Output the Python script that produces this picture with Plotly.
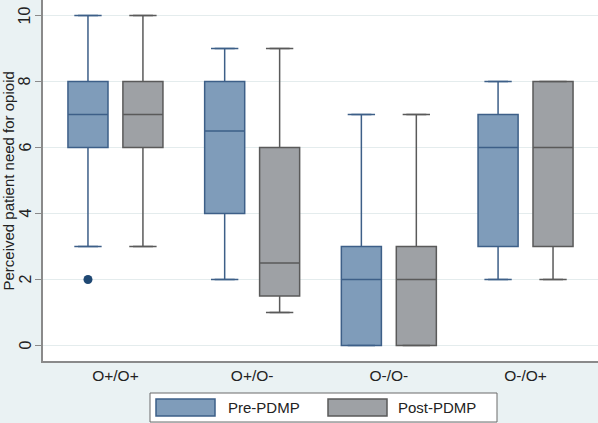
import plotly.graph_objects as go

# ---- data ----
categories = ["O+/O+", "O+/O-", "O-/O-", "O-/O+"]
series = ["Pre-PDMP", "Post-PDMP"]
y_title = "Perceived patient need for opioid"

pre_low = [3, 2, 0, 2]
pre_q1 = [6, 4, 0, 3]
pre_med = [7, 6.5, 2, 6]
pre_q3 = [8, 8, 3, 7]
pre_high = [10, 9, 7, 8]

post_low = [3, 1, 0, 2]
post_q1 = [6, 1.5, 0, 3]
post_med = [7, 2.5, 2, 6]
post_q3 = [8, 6, 3, 8]
post_high = [10, 9, 7, 8]

# outliers: (category index, series, value)
outlier_cat = [0]
outlier_series = ["Pre-PDMP"]
outlier_val = [2]

y_ticks = [0, 2, 4, 6, 8, 10]

# ---- style ----
PRE_FILL = "#7f9cba"
PRE_LINE = "#3d5f88"
POST_FILL = "#9ea1a5"
POST_LINE = "#5a5a5a"
BG = "#eaf2f3"
GRID = "#e4eced"
FONT = "Liberation Sans, Arial, sans-serif"

W, H = 598, 423
ML, MR, MT, MB = 43, 0, 0, 62
offset = 0.201
bw = 0.293
cap = 0.1

fig = go.Figure()

def add_series(name, low, q1, med, q3, high, sign, fill, line):
    xs = [i + sign * offset for i in range(len(categories))]
    fig.add_trace(go.Box(
        name=name, x=xs, q1=q1, median=med, q3=q3,
        lowerfence=low, upperfence=high, width=bw,
        fillcolor=fill, line=dict(color=line, width=1.5),
        boxpoints=False, showlegend=False, hoverinfo="skip",
    ))
    cx, cy = [], []
    for x, lo, hi in zip(xs, low, high):
        cx += [x - cap, x + cap, None, x - cap, x + cap, None]
        cy += [lo, lo, None, hi, hi, None]
    fig.add_trace(go.Scatter(x=cx, y=cy, mode="lines",
                             line=dict(color=line, width=1.5),
                             showlegend=False, hoverinfo="skip"))

add_series("Pre-PDMP", pre_low, pre_q1, pre_med, pre_q3, pre_high, -1, PRE_FILL, PRE_LINE)
add_series("Post-PDMP", post_low, post_q1, post_med, post_q3, post_high, 1, POST_FILL, POST_LINE)

ox = [c + (-offset if s == "Pre-PDMP" else offset) for c, s in zip(outlier_cat, outlier_series)]
fig.add_trace(go.Scatter(x=ox, y=outlier_val, mode="markers",
                         marker=dict(color="#1f4873", size=9),
                         showlegend=False, hoverinfo="skip"))

# ---- legend drawn manually (paper coords from pixels) ----
pw = W - ML - MR
ph = H - MT - MB
def px(x):
    return (x - ML) / pw
def py(y):
    return (H - MB - y) / ph

shapes = [
    dict(type="rect", xref="paper", yref="paper", x0=px(150), x1=px(497), y0=py(422), y1=py(393),
         fillcolor="white", line=dict(color="#6a6a6a", width=1)),
    dict(type="rect", xref="paper", yref="paper", x0=px(156), x1=px(215), y0=py(416), y1=py(399),
         fillcolor=PRE_FILL, line=dict(color=PRE_LINE, width=1.5)),
    dict(type="rect", xref="paper", yref="paper", x0=px(328), x1=px(387), y0=py(416), y1=py(399),
         fillcolor=POST_FILL, line=dict(color=POST_LINE, width=1.5)),
]
annotations = [
    dict(text=series[0], xref="paper", yref="paper", x=px(226), y=py(407.5), xanchor="left", yanchor="middle",
         showarrow=False, font=dict(family=FONT, size=15, color="#222")),
    dict(text=series[1], xref="paper", yref="paper", x=px(396), y=py(407.5), xanchor="left", yanchor="middle",
         showarrow=False, font=dict(family=FONT, size=15, color="#222")),
    dict(text=y_title, xref="paper", yref="paper", x=px(7.5), y=py(181), xanchor="center", yanchor="middle",
         textangle=-90, showarrow=False, font=dict(family=FONT, size=15, color="#222")),
]
# y tick labels (rotated, as in the original)
for t in y_ticks:
    annotations.append(dict(text=str(t), xref="paper", yref="y", x=px(25), y=t,
                            xanchor="center", yanchor="middle", textangle=-90, showarrow=False,
                            font=dict(family=FONT, size=16, color="#222")))

fig.update_layout(
    width=W, height=H, autosize=False,
    margin=dict(l=ML, r=MR, t=MT, b=MB, pad=0),
    paper_bgcolor=BG, plot_bgcolor="white",
    font=dict(family=FONT, size=15, color="#222"),
    shapes=shapes, annotations=annotations,
    showlegend=False,
)
fig.update_xaxes(
    range=[-0.53, 3.53], tickvals=list(range(len(categories))), ticktext=categories,
    showgrid=False, zeroline=False, showline=True, linecolor="#8a8a8a", linewidth=1.5,
    ticks="", tickfont=dict(size=15.5), automargin=False,
)
fig.update_yaxes(
    range=[-0.47, 10.47], tickvals=y_ticks, showticklabels=False,
    showgrid=True, gridcolor=GRID, gridwidth=1, zeroline=False,
    showline=True, linecolor="#8a8a8a", linewidth=1.5,
    ticks="outside", ticklen=6, tickcolor="#8a8a8a",
    automargin=False,
)

fig.write_html(
    "out.html",
    config={"displayModeBar": False},
    post_script="document.body.style.margin='0';document.body.style.overflow='hidden';",
)
